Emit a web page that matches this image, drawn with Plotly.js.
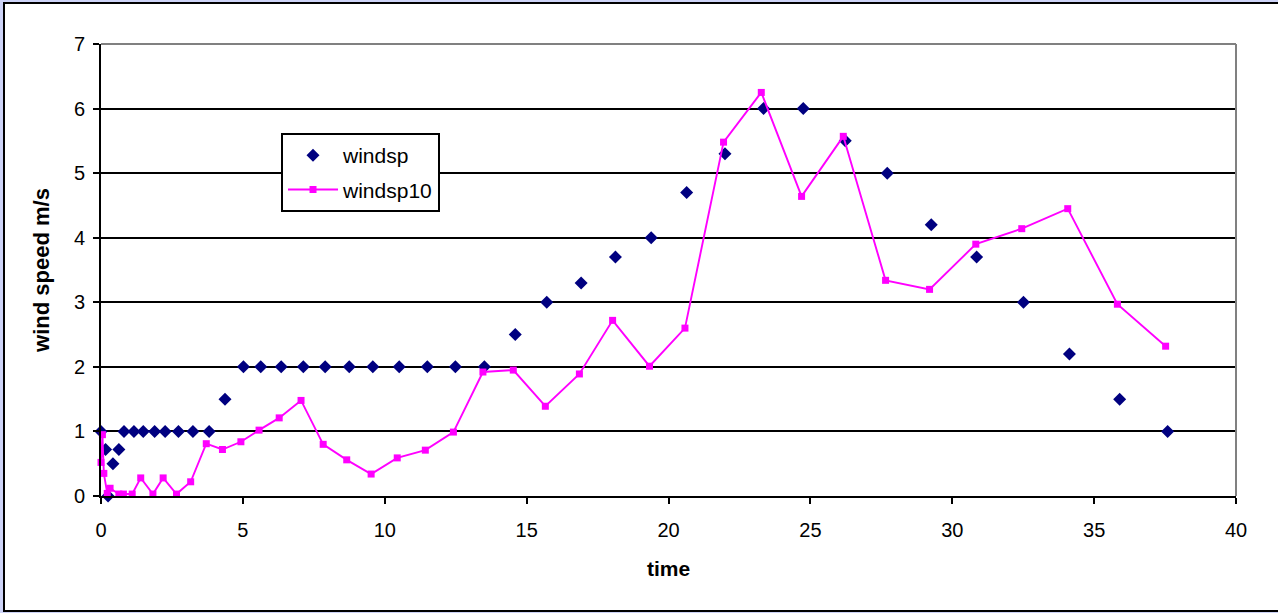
<!DOCTYPE html>
<html>
<head>
<meta charset="utf-8">
<script src="https://cdn.plot.ly/plotly-3.0.1.min.js"></script>
<style>
  html, body { margin: 0; padding: 0; width: 1278px; height: 613px; overflow: hidden; background: #cdd3f7; }
  #frame { position: absolute; left: 3px; top: 2px; width: 1300px; height: 606px;
           background: #ffffff; border: 2px solid #000000; }
  #chart { position: absolute; left: 0; top: 0; width: 1278px; height: 613px; }
</style>
</head>
<body>
<div id="frame"></div>
<div id="chart"></div>
<script>
// Measured wind speed (m/s) against time
const windspTime = [0, 0.16, 0.25, 0.42, 0.63, 0.81, 1.16, 1.49, 1.89, 2.26, 2.73, 3.24, 3.81,
  4.37, 5.02, 5.63, 6.35, 7.13, 7.9, 8.75, 9.58, 10.51, 11.5, 12.49, 13.51,
  14.6, 15.71, 16.92, 18.13, 19.39, 20.64, 21.99, 23.35, 24.75, 26.23, 27.71, 29.26,
  30.86, 32.51, 34.13, 35.9, 37.59];
const windspValues = [1, 0.72, 0, 0.5, 0.72, 1, 1, 1, 1, 1, 1, 1, 1,
  1.5, 2, 2, 2, 2, 2, 2, 2, 2, 2, 2, 2,
  2.5, 3, 3.3, 3.7, 4, 4.7, 5.3, 6, 6, 5.5, 5, 4.2,
  3.7, 3, 2.2, 1.5, 1];

// Wind speed at 10 m
const windsp10Time = [0, 0.05, 0.1, 0.22, 0.32, 0.63, 0.79, 1.1, 1.4, 1.83, 2.19, 2.66, 3.16, 3.71,
  4.28, 4.93, 5.57, 6.28, 7.05, 7.83, 8.66, 9.52, 10.44, 11.43, 12.42, 13.46,
  14.53, 15.66, 16.86, 18.03, 19.33, 20.58, 21.94, 23.27, 24.69, 26.16, 27.65, 29.2,
  30.83, 32.45, 34.07, 35.82, 37.52];
const windsp10Values = [0.52, 0.95, 0.35, 0.04, 0.12, 0.03, 0.03, 0.03, 0.28, 0.03, 0.28, 0.03, 0.22, 0.81,
  0.72, 0.84, 1.02, 1.21, 1.48, 0.80, 0.56, 0.34, 0.59, 0.71, 0.99, 1.92,
  1.95, 1.39, 1.89, 2.72, 2.01, 2.60, 5.48, 6.25, 4.64, 5.57, 3.34, 3.20,
  3.90, 4.14, 4.45, 2.97, 2.32];

const seriesNames = ['windsp', 'windsp10'];
const xTitle = 'time';
const yTitle = 'wind speed m/s';

const FONT = 'Liberation Sans, Arial, sans-serif';

const traces = [
  {
    x: windspTime, y: windspValues, name: seriesNames[0],
    type: 'scatter', mode: 'markers', cliponaxis: false,
    legendgroup: 'a',
    marker: { symbol: 'diamond', size: 10, color: '#000080' }
  },
  {
    x: windsp10Time, y: windsp10Values, name: seriesNames[1],
    type: 'scatter', mode: 'lines+markers', cliponaxis: false,
    legendgroup: 'b',
    line: { color: '#ff00ff', width: 1.9 },
    marker: { symbol: 'square', size: 7, color: '#ff00ff' }
  }
];

const layout = {
  width: 1278, height: 613,
  margin: { l: 101, r: 42, t: 44, b: 117 },
  paper_bgcolor: 'rgba(0,0,0,0)',
  plot_bgcolor: '#ffffff',
  font: { family: FONT, size: 20, color: '#000000' },
  showlegend: true,
  legend: {
    x: 0.1586, y: 0.803, xanchor: 'left', yanchor: 'top',
    bgcolor: '#ffffff', bordercolor: '#000000', borderwidth: 2,
    font: { family: FONT, size: 21, color: '#000000' },
    itemwidth: 50,
    traceorder: 'grouped', tracegroupgap: 4
  },
  xaxis: {
    range: [0, 40], dtick: 5, tick0: 0,
    showgrid: false, zeroline: false,
    showline: true, linecolor: '#000000', linewidth: 2,
    ticks: 'outside', ticklen: 6, tickwidth: 2, tickcolor: '#000000',
    ticklabelstandoff: 9,
    tickfont: { family: FONT, size: 20 },
    title: { text: xTitle, standoff: 21, font: { family: FONT, size: 21, weight: 'bold' } }
  },
  yaxis: {
    range: [0, 7], dtick: 1, tick0: 0,
    showgrid: true, gridcolor: '#000000', gridwidth: 2,
    zeroline: false,
    showline: true, linecolor: '#000000', linewidth: 2,
    ticks: 'outside', ticklen: 6, tickwidth: 2, tickcolor: '#000000',
    ticklabelstandoff: 4,
    tickfont: { family: FONT, size: 20 },
    title: { text: yTitle, standoff: 18, font: { family: FONT, size: 22, weight: 'bold' } }
  },
  shapes: [
    // grey plot-area border along the top and right edges
    { type: 'line', xref: 'paper', yref: 'paper', x0: 0, x1: 1, y0: 1, y1: 1,
      line: { color: '#808080', width: 2 }, layer: 'above' },
    { type: 'line', xref: 'paper', yref: 'paper', x0: 1, x1: 1, y0: 0, y1: 1,
      line: { color: '#808080', width: 2 }, layer: 'above' }
  ]
};

Plotly.newPlot('chart', traces, layout, { displayModeBar: false, staticPlot: true });
</script>
</body>
</html>
